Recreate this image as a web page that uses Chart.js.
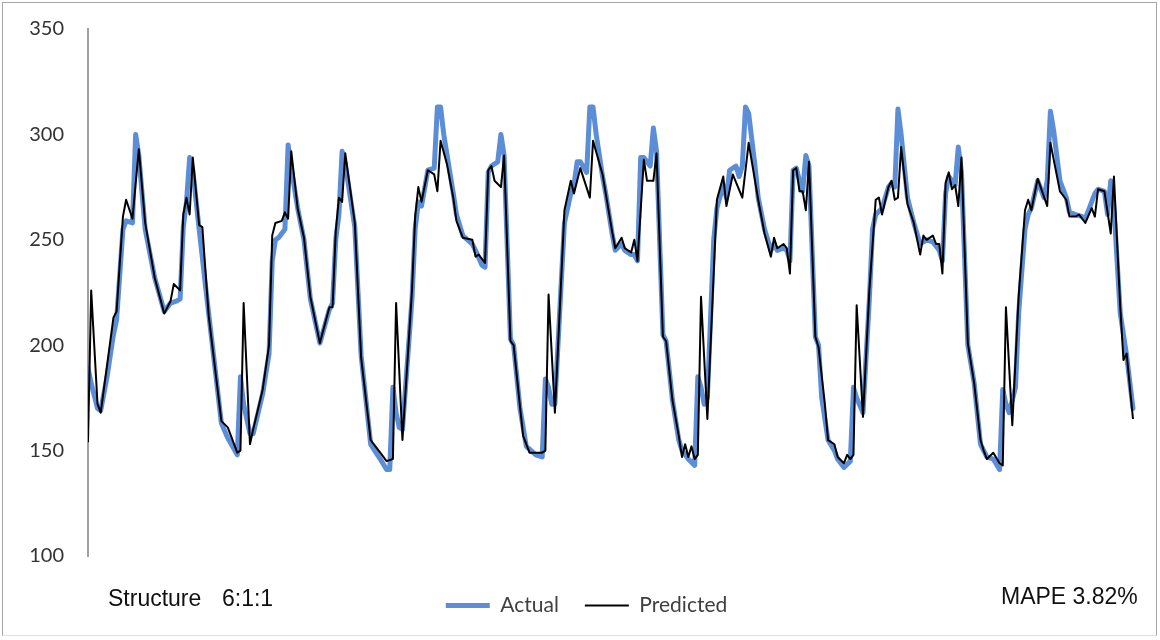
<!DOCTYPE html>
<html>
<head>
<meta charset="utf-8">
<title>Actual vs Predicted</title>
<script src="https://cdn.jsdelivr.net/npm/chart.js@4.4.1/dist/chart.umd.min.js"></script>
<style>
  body { margin: 0; background: #fff; }
  #wrap { position: relative; width: 1160px; height: 640px; }
  #frame {
    position: absolute; left: 2px; top: 2px; width: 1155px; height: 634px;
    border: 1px solid #a6a6a6; border-bottom-color: #e2e2e2; box-sizing: border-box;
  }
  .note {
    position: absolute; font-family: 'Liberation Sans', Arial, sans-serif;
    font-size: 23px; line-height: 1; color: #111; white-space: nowrap;
  }
</style>
</head>
<body>
<div id="wrap">
  <canvas id="grafica" width="1160" height="640"></canvas>
  <div id="frame"></div>
  <div class="note" style="left:108px; top:587px;">Structure</div>
  <div class="note" style="left:222px; top:587px;">6:1:1</div>
  <div class="note" style="left:1001px; top:585px;">MAPE 3.82%</div>
</div>
<script>
// half-hour step index and load value at each vertex
const actualT = [0,1,3,4,6,8,9,11,12,14,15,16,18,21,24,26,28,29,30,31,32,33,35,37,42,44,47,48,49,51,52,55,57,58,59,60,62,63,64,66,68,70,73,76,77,78,79,80,81,84,86,89,92,94,95,96,97,98,99,102,103,104,105,107,109,110,111,112,115,116,118,121,122,124,125,126,127,129,130,131,133,134,136,138,141,143,144,145,146,147,149,150,152,153,154,155,157,158,159,160,162,163,165,166,168,169,171,172,173,174,175,177,178,179,181,182,184,186,187,189,191,192,193,194,195,197,198,200,201,202,204,205,206,207,208,210,211,213,215,216,217,219,220,221,222,223,224,225,226,227,229,230,231,233,235,236,238,240,241,242,244,246,247,248,250,252,253,254,255,256,258,260,262,264,266,268,269,270,271,273,274,275,277,279,281,283,285,287,288,289,290,292,293,295,296,297,299,301,302,303,304,306,308,309,311,313,314,316,317,318,320,321,322,323,325,326,327,329];
const actualV = [189,182,170,169,185,205,212,255,259,258,300,290,255,232,216,220,221,222,256,268,289,283,255,228,163,156,148,185,172,158,158,177,196,240,250,251,255,295,284,265,250,222,201,217,220,250,262,292,286,256,195,153,146,141,141,180,168,161,160,222,255,268,266,283,284,313,313,300,272,262,252,248,245,238,237,282,285,287,300,290,203,200,170,152,148,147,184,180,172,172,230,258,272,276,287,287,282,313,313,300,280,272,253,245,248,245,243,243,240,289,289,285,303,292,205,202,174,155,150,146,143,185,180,172,175,250,265,276,270,283,285,280,285,313,310,285,270,255,245,248,245,246,245,240,283,284,278,273,290,285,204,200,175,155,150,146,142,145,180,175,168,222,255,262,265,275,277,275,312,300,270,258,248,250,249,245,240,272,280,276,294,282,200,182,153,147,146,141,179,172,168,180,215,255,262,265,278,270,278,311,302,278,270,263,262,261,260,268,272,274,273,262,278,265,215,205,195,170];

const predT = [0,1,3,4,8,9,11,12,14,16,18,21,24,26,27,29,30,31,32,33,35,36,38,42,44,47,48,49,51,52,55,57,58,59,61,62,63,64,66,68,70,73,76,77,78,79,80,81,84,86,89,92,94,96,97,99,102,103,104,105,107,109,110,111,113,115,116,118,121,122,123,125,126,127,128,130,131,133,134,136,137,139,141,143,144,145,147,150,152,153,155,158,159,162,163,165,166,168,169,171,172,173,175,176,178,179,181,182,184,186,187,188,189,190,191,192,193,195,198,200,201,203,206,208,211,213,215,216,217,219,220,221,222,223,224,225,226,227,229,230,232,233,235,236,238,239,240,241,242,244,246,248,249,250,252,253,254,255,256,258,260,262,263,264,266,267,268,269,270,271,272,273,274,275,277,279,281,282,283,285,287,288,289,291,293,295,296,297,299,302,303,306,308,309,311,312,314,316,317,318,320,322,323,325,326,327,329];
const predV = [154,226,172,168,213,216,261,269,260,293,258,232,215,221,229,226,262,270,262,289,257,256,214,164,161,149,150,220,153,160,179,200,252,258,259,263,260,292,265,251,223,201,218,218,254,270,268,291,258,194,155,149,145,146,220,155,226,261,275,268,283,281,273,297,286,270,259,251,250,242,243,239,283,285,278,275,290,202,200,171,157,149,149,149,150,224,168,264,278,272,284,270,297,281,272,254,246,251,246,244,250,240,288,278,278,291,204,202,174,157,147,153,147,152,146,148,223,165,269,280,266,281,270,296,269,253,242,251,246,248,246,234,283,284,273,273,264,287,204,199,172,155,153,147,144,148,146,148,219,166,226,269,270,262,275,278,269,270,294,267,258,243,252,250,252,248,248,234,277,282,274,276,266,289,201,182,155,150,146,149,144,143,218,162,223,264,269,264,279,266,296,273,269,261,261,262,258,265,261,274,273,253,280,218,193,196,165];

const yTicks = [100, 150, 200, 250, 300, 350];

function puntos(ts, vs) {
  return ts.map((t, i) => ({ x: t, y: vs[i] }));
}

const ctx = document.getElementById('grafica');

new Chart(ctx, {
  type: 'line',
  data: {
    datasets: [{
      label: 'Actual',
      data: puntos(actualT, actualV),
      borderColor: '#5b8ed6',
      backgroundColor: '#5b8ed6',
      borderWidth: 5,
      borderJoinStyle: 'round',
      borderCapStyle: 'round',
      pointRadius: 0,
      tension: 0,
      order: 2
    }, {
      label: 'Predicted',
      data: puntos(predT, predV),
      borderColor: '#000000',
      backgroundColor: '#000000',
      borderWidth: 2,
      borderJoinStyle: 'round',
      pointRadius: 0,
      tension: 0,
      order: 1
    }]
  },
  options: {
    responsive: false,
    animation: false,
    devicePixelRatio: 1,
    layout: { autoPadding: false, padding: { left: 20, right: 7, top: 29, bottom: 14 } },
    plugins: {
      tooltip: { enabled: false },
      legend: {
        position: 'bottom',
        labels: {
          usePointStyle: true,
          pointStyle: 'line',
          pointStyleWidth: 44,
          padding: 26,
          color: '#404040',
          font: { family: 'Lato', size: 21 },
          sort: (a, b) => a.datasetIndex - b.datasetIndex
        }
      }
    },
    scales: {
      x: {
        type: 'linear',
        min: 0,
        max: 335.3,
        ticks: { display: false },
        grid: { display: false, drawTicks: false },
        border: { display: false },
        afterFit: s => { s.height = 13; }
      },
      y: {
        min: 100,
        max: 350,
        afterBuildTicks: s => { s.ticks = yTicks.map(v => ({ value: v })); },
        ticks: {
          color: '#333333',
          padding: 24,
          font: { family: 'Lato', size: 20 }
        },
        grid: { display: false, drawTicks: false },
        border: { display: true, color: '#a0a0a0', width: 2 },
        afterFit: s => { s.width = 68; s.paddingTop = 0; s.paddingBottom = 0; }
      }
    }
  }
});
</script>
</body>
</html>
